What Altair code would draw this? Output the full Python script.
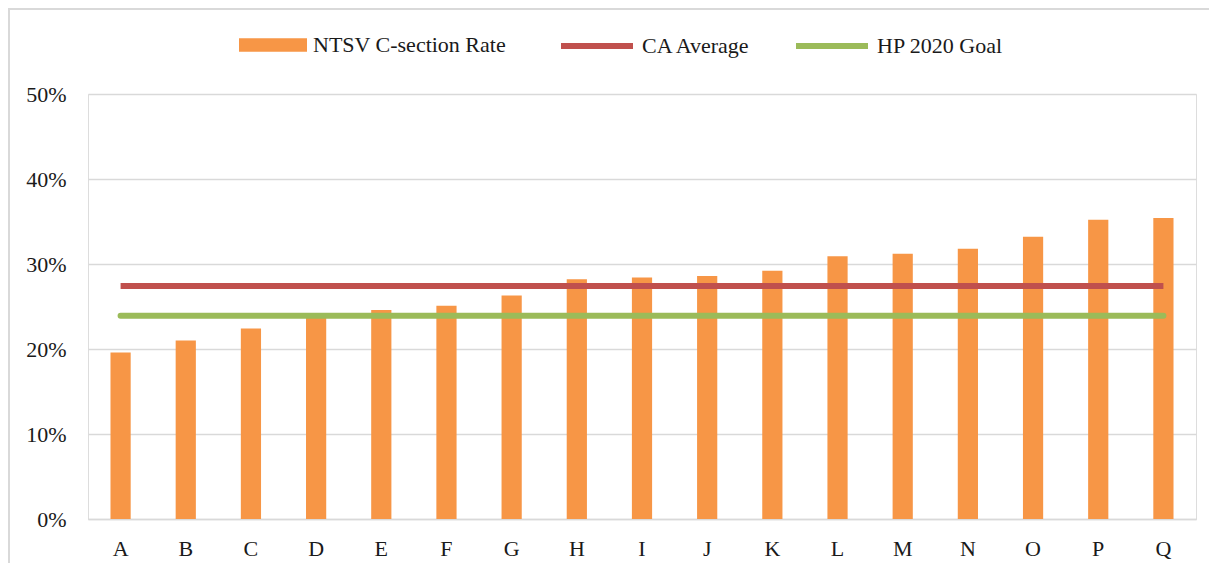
import altair as alt
import pandas as pd

categories = ["A", "B", "C", "D", "E", "F", "G", "H", "I", "J", "K", "L", "M", "N", "O", "P", "Q"]
ntsv_rate = [0.196, 0.210, 0.224, 0.239, 0.246, 0.251, 0.263, 0.282, 0.284, 0.286,
             0.292, 0.309, 0.312, 0.318, 0.332, 0.352, 0.354]
ca_average = 0.274
hp_goal = 0.239
y_ticks = [0.0, 0.1, 0.2, 0.3, 0.4, 0.5]

BAR_NAME = "NTSV C-section Rate"
CA_NAME = "CA Average"
HP_NAME = "HP 2020 Goal"

ORANGE = "#F79646"
RED = "#C0504D"
GREEN = "#9BBB59"
GRID = "#D9D9D9"
FONT = "Liberation Serif"
TXT = "#1a1a1a"
FS = 22

W, H = 1108, 425

bars_df = pd.DataFrame({"cat": categories, "rate": ntsv_rate, "series": BAR_NAME})
ca_df = pd.DataFrame({"cat": [categories[0], categories[-1]],
                      "rate": [ca_average, ca_average], "series": CA_NAME})
hp_df = pd.DataFrame({"cat": [categories[0], categories[-1]],
                      "rate": [hp_goal, hp_goal], "series": HP_NAME})
frame_df = pd.DataFrame({"frame": [0]})

x_enc = alt.X("cat:N", sort=categories, title=None,
              scale=alt.Scale(paddingInner=0.69, paddingOuter=0.345),
              axis=alt.Axis(labelAngle=0, ticks=False, domain=True, domainColor=GRID,
                            domainWidth=1.3, labelFont=FONT, labelFontSize=FS,
                            labelColor=TXT, labelPadding=19, grid=False))
y_enc = alt.Y("rate:Q", title=None,
              scale=alt.Scale(domain=[0, 0.5], nice=False),
              axis=alt.Axis(values=y_ticks, format=".0%", ticks=False, domain=False,
                            grid=True, gridColor=GRID, gridWidth=1.3,
                            labelFont=FONT, labelFontSize=FS, labelColor=TXT,
                            labelPadding=22))

def legend(x, y, stype, size, stroke_w=0):
    return alt.Legend(title=None, orient="none", legendX=x, legendY=y,
                      symbolType=stype, symbolSize=size, symbolStrokeWidth=stroke_w,
                      symbolOpacity=1, labelFont=FONT, labelFontSize=FS,
                      labelColor=TXT, labelOffset=6, labelLimit=400, padding=0,
                      direction="horizontal")

bars = alt.Chart(bars_df).mark_bar().encode(
    x=x_enc, y=y_enc,
    fill=alt.Fill("series:N", scale=alt.Scale(domain=[BAR_NAME], range=[ORANGE]),
                  legend=legend(151, -83, "M-1,-0.2H1V0.2H-1Z", 4624)),
)

ca_line = alt.Chart(ca_df).mark_line(strokeWidth=6, strokeCap="butt").encode(
    x=alt.X("cat:N", sort=categories), y="rate:Q",
    stroke=alt.Stroke("series:N", scale=alt.Scale(domain=[CA_NAME], range=[RED]),
                      legend=legend(470, -87, "stroke", 5184, 6)),
)

hp_line = alt.Chart(hp_df).mark_line(strokeWidth=6, strokeCap="round").encode(
    x=alt.X("cat:N", sort=categories), y="rate:Q",
    stroke=alt.Stroke("series:N", scale=alt.Scale(domain=[HP_NAME], range=[GREEN]),
                      legend=legend(705, -87, "stroke", 5184, 6)),
)

frame = alt.Chart(frame_df).mark_rect(fillOpacity=0, stroke=GRID, strokeWidth=2).encode(
    x=alt.value(-79), x2=alt.value(W + 200), y=alt.value(-85), y2=alt.value(H + 200)
)

chart = alt.layer(frame, bars, ca_line, hp_line).resolve_scale(
    stroke="independent"
).properties(
    width=W, height=H,
    autosize=alt.AutoSizeParams(type="none"),
    padding={"left": 80, "top": 86, "right": 13, "bottom": 44},
).configure_view(strokeWidth=0, stroke="transparent").configure(font=FONT, background="white")

chart.save("out.html", embed_options={"renderer": "svg", "actions": False})
